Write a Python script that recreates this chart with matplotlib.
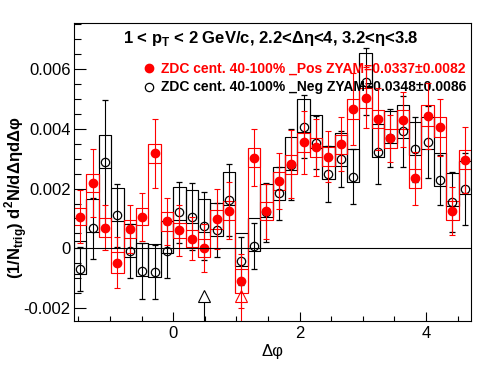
import numpy as np
import matplotlib
matplotlib.use('Agg')
import matplotlib.pyplot as plt
from matplotlib.ticker import MultipleLocator, FixedLocator, FuncFormatter

plt.rcParams['font.family'] = ['Liberation Sans', 'DejaVu Sans']
plt.rcParams['mathtext.fontset'] = 'custom'
plt.rcParams['mathtext.rm'] = 'Liberation Sans'
plt.rcParams['mathtext.bf'] = 'Liberation Sans:bold'
plt.rcParams['axes.unicode_minus'] = False

# 32 bins in delta phi, -pi/2 .. 3pi/2
edges = np.linspace(-np.pi / 2, 3 * np.pi / 2, 33)
centers = 0.5 * (edges[1:] + edges[:-1])
width = edges[1] - edges[0]

# values in units of 1e-3
# ZDC 40-100% _Pos (red): points, stat. errors, syst. box half height
pos_y = [1.06, 2.18, 0.69, -0.48, 0.64, 1.06, 3.18, 0.90, 0.60, 0.33, 0.00, 0.97,
         1.26, -1.09, 3.04, 1.25, 2.25, 2.82, 3.55, 3.38, 3.07, 3.48, 4.67, 5.04,
         4.33, 3.68, 4.30, 2.34, 4.44, 4.05, 1.26, 2.96]
pos_err = [0.89, 1.13, 0.75, 0.85, 0.80, 0.80, 1.16, 0.80, 0.84, 0.72, 0.80, 1.00,
           0.95, 0.89, 0.96, 0.92, 0.93, 1.13, 1.05, 0.95, 0.85, 0.90, 1.20, 1.02,
           1.05, 0.78, 0.92, 0.88, 1.10, 0.95, 0.80, 1.10]
pos_sys = [0.29, 0.31, 0.31, 0.35, 0.30, 0.29, 0.32, 0.31, 0.26, 0.30, 0.30, 0.31,
           0.31, 0.40, 0.32, 0.31, 0.31, 0.32, 0.32, 0.31, 0.31, 0.31, 0.33, 0.33,
           0.31, 0.33, 0.32, 0.33, 0.36, 0.33, 0.31, 0.32]

# ZDC 40-100% _Neg (black): points, stat. errors, box centre and half height
neg_y = [-0.69, 0.67, 2.88, 1.10, -0.09, -0.77, -0.79, -0.09, 1.21, 1.06, 0.75, 0.61,
         1.62, -0.42, 0.08, 1.20, 1.84, 2.80, 4.07, 3.54, 2.49, 2.98, 2.40, 5.58,
         3.24, 3.69, 3.91, 3.31, 3.57, 2.29, 1.56, 1.98]
neg_err = [0.75, 1.02, 2.09, 1.04, 0.89, 0.94, 0.90, 0.90, 1.02, 1.12, 1.15, 0.90,
           1.20, 0.79, 0.76, 1.00, 0.89, 1.18, 1.06, 0.89, 0.94, 0.93, 0.93, 1.12,
           1.10, 0.96, 1.20, 1.10, 1.20, 0.85, 1.00, 1.20]
neg_box = [-0.32, 1.11, 3.25, 1.48, 0.25, -0.37, -0.42, 0.38, 1.50, 1.40, 1.09, 0.98,
           2.00, -0.05, 0.45, 1.60, 2.17, 3.17, 4.44, 3.92, 2.87, 3.32, 2.76, 5.98,
           3.60, 4.06, 4.25, 3.69, 3.86, 2.65, 1.97, 2.38]
neg_sys = [0.55] * 32

# ZYAM minimum positions (arrows): Pos, Neg
zyam_phi = [1.08, 0.49]

title = r"1 < p$_{\mathbf{T}}$ < 2 GeV/c, 2.2<Δη<4, 3.2<η<3.8"
label_pos = "ZDC cent. 40-100% _Pos ZYAM=0.0337±0.0082"
label_neg = "ZDC cent. 40-100% _Neg ZYAM=0.0348±0.0086"

sc = 1e-3
pos_y = np.array(pos_y) * sc
pos_err = np.array(pos_err) * sc
pos_sys = np.array(pos_sys) * sc
neg_y = np.array(neg_y) * sc
neg_err = np.array(neg_err) * sc
neg_box = np.array(neg_box) * sc
neg_sys = np.array(neg_sys) * sc

ymin, ymax = -0.00242, 0.00755

fig = plt.figure(figsize=(4.96, 3.74), dpi=100)
ax = fig.add_axes([74 / 496, 1 - 320.7 / 374, 397 / 496, 298 / 374])
lw = 0.8


def draw_boxes(lo, hi, color):
    ax.bar(centers, hi - lo, bottom=lo, width=width, fill=False,
           edgecolor=color, linewidth=lw, zorder=2)
    # box outlines joined at the bin edges
    vmin = np.minimum(lo[:-1], lo[1:])
    vmax = np.maximum(hi[:-1], hi[1:])
    ax.vlines(edges[1:-1], vmin, vmax, color=color, lw=lw, zorder=2)


draw_boxes(neg_box - neg_sys, neg_box + neg_sys, 'black')
ax.errorbar(centers, neg_y, yerr=neg_err, fmt='o', ms=6, mfc='none', mec='black',
            mew=0.9, ecolor='black', elinewidth=lw, capsize=2.2, capthick=lw, zorder=3)

draw_boxes(pos_y - pos_sys, pos_y + pos_sys, 'red')
ax.errorbar(centers, pos_y, yerr=pos_err, fmt='o', ms=6, mfc='red', mec='red',
            ecolor='red', elinewidth=lw, capsize=2.2, capthick=lw, zorder=4)

ax.axhline(0, color='black', lw=lw, zorder=5)

# arrows marking the ZYAM minimum
tip, base = -0.00140, -0.00182
for x, c in zip(zyam_phi, ['red', 'black']):
    ax.plot([x, x], [ymin, base], color=c, lw=lw, zorder=6)
    ax.plot(x, 0.5 * (tip + base), marker='^', ms=9, mfc='none', mec=c,
            mew=lw, zorder=6)

ax.set_xlim(edges[0], edges[-1])
ax.set_ylim(ymin, ymax)

ax.xaxis.set_major_locator(FixedLocator([0, 2, 4]))
ax.xaxis.set_minor_locator(MultipleLocator(0.5))
ax.yaxis.set_major_locator(MultipleLocator(0.002))
ax.yaxis.set_minor_locator(MultipleLocator(0.0005))
ax.yaxis.set_major_formatter(FuncFormatter(lambda v, p: '0' if abs(v) < 1e-9 else f'{v:.3f}'))
ax.xaxis.set_major_formatter(FuncFormatter(lambda v, p: f'{v:.0f}'))

ax.tick_params(axis='both', which='both', direction='in', top=False, right=False,
               width=lw, labelsize=12)
ax.tick_params(axis='x', which='major', length=6.5, pad=4)
ax.tick_params(axis='x', which='minor', length=3.4)
ax.tick_params(axis='y', which='major', length=8.6, pad=2.5)
ax.tick_params(axis='y', which='minor', length=4.7)
for s in ax.spines.values():
    s.set_linewidth(lw)

# legend
ax.plot(0.189, 0.847, 'o', ms=6, color='red', transform=ax.transAxes, clip_on=False)
ax.text(0.219, 0.847, label_pos, color='red', fontsize=10, fontweight='bold',
        va='center', ha='left', transform=ax.transAxes)
ax.plot(0.189, 0.784, 'o', ms=6, mfc='none', mec='black', mew=0.9,
        transform=ax.transAxes, clip_on=False)
ax.text(0.219, 0.784, label_neg, color='black', fontsize=10, fontweight='bold',
        va='center', ha='left', transform=ax.transAxes)

fig.text(0.546, 1 - 43.3 / 374, title, fontsize=12, fontweight='bold',
         ha='center', va='baseline')
ax.text(0.5, -0.105, 'Δφ', fontsize=12, ha='center', va='center',
        transform=ax.transAxes)
fig.text(0.033, 0.47, r"(1/N$_{\mathbf{trig}}$) d$^{\mathbf{2}}$N/dΔηdΔφ",
         fontsize=12, fontweight='bold', rotation=90, ha='center', va='center')

fig.savefig('out.png', dpi=100, facecolor='white')
